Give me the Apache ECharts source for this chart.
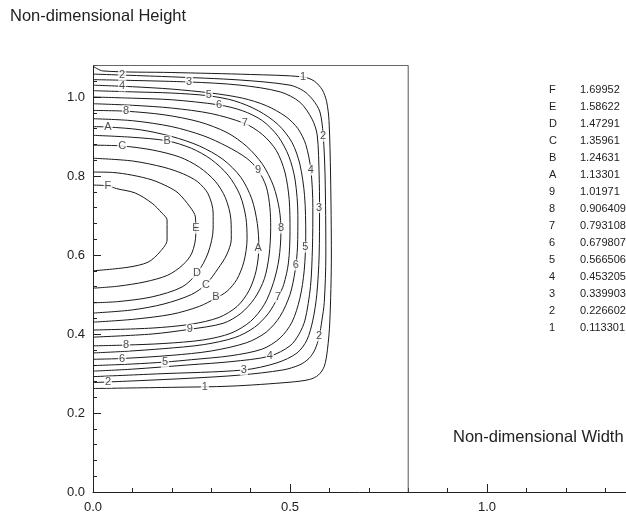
<!DOCTYPE html>
<html>
<head>
<meta charset="utf-8">
<script src="https://cdn.jsdelivr.net/npm/echarts@6/dist/echarts.min.js"></script>
<style>
  html, body { margin: 0; padding: 0; background: #fff; }
  #chart { width: 626px; height: 516px; }
</style>
</head>
<body>
<div id="chart"></div>
<script>
// contour levels (legend)
const levelNames = ['1', '2', '3', '4', '5', '6', '7', '8', '9', 'A', 'B', 'C', 'D', 'E', 'F']
const levelValues = [0.113301, 0.226602, 0.339903, 0.453205, 0.566506, 0.679807, 0.793108,
  0.906409, 1.01971, 1.13301, 1.24631, 1.35961, 1.47291, 1.58622, 1.69952]

// domain (width, height)
const domainSize = [0.8, 1.08]

// contour lines, [x, y]
const c1 = [[0, 1.078], [0.025, 1.066], [0.2, 1.062], [0.4, 1.057], [0.533, 1.051], [0.562, 1.04], [0.582, 1.018], [0.593, 0.988], [0.599, 0.94], [0.603, 0.8], [0.605, 0.6], [0.601, 0.43], [0.595, 0.36], [0.587, 0.318], [0.572, 0.296], [0.55, 0.285], [0.5, 0.278], [0.35, 0.268], [0.2, 0.265], [0, 0.262]]
const c2 = [[0, 1.058], [0.2, 1.051], [0.373, 1.043], [0.5, 1.03], [0.535, 1.015], [0.558, 0.993], [0.576, 0.962], [0.584, 0.906], [0.589, 0.8], [0.591, 0.6], [0.587, 0.48], [0.581, 0.435], [0.574, 0.393], [0.563, 0.36], [0.548, 0.338], [0.525, 0.322], [0.482, 0.309], [0.373, 0.296], [0.246, 0.288], [0.119, 0.282], [0, 0.277]]
const c3 = [[0, 1.044], [0.244, 1.038], [0.373, 1.03], [0.475, 1.013], [0.525, 0.987], [0.556, 0.944], [0.569, 0.904], [0.574, 0.8], [0.575, 0.72], [0.574, 0.6], [0.568, 0.5], [0.558, 0.435], [0.543, 0.385], [0.518, 0.352], [0.467, 0.327], [0.383, 0.309], [0.162, 0.299], [0, 0.292]]
const c4 = [[0, 1.03], [0.1, 1.026], [0.2, 1.02], [0.3, 1.01], [0.38, 0.997], [0.44, 0.978], [0.49, 0.95], [0.52, 0.92], [0.54, 0.88], [0.553, 0.815], [0.558, 0.72], [0.557, 0.62], [0.552, 0.52], [0.538, 0.435], [0.522, 0.398], [0.5, 0.37], [0.449, 0.344], [0.35, 0.33], [0.246, 0.322], [0.1, 0.311], [0, 0.306]]
const c5 = [[0, 1.016], [0.1, 1.013], [0.2, 1.01], [0.294, 1.003], [0.36, 0.99], [0.42, 0.965], [0.47, 0.93], [0.505, 0.885], [0.525, 0.83], [0.537, 0.75], [0.54, 0.65], [0.536, 0.56], [0.525, 0.49], [0.505, 0.43], [0.475, 0.39], [0.43, 0.362], [0.35, 0.345], [0.25, 0.335], [0.183, 0.329], [0.1, 0.324], [0, 0.32]]
const c6 = [[0, 1.0], [0.1, 0.997], [0.2, 0.993], [0.32, 0.98], [0.38, 0.965], [0.43, 0.94], [0.47, 0.9], [0.497, 0.85], [0.513, 0.79], [0.52, 0.7], [0.519, 0.62], [0.513, 0.56], [0.5, 0.5], [0.475, 0.445], [0.44, 0.405], [0.39, 0.378], [0.3, 0.357], [0.2, 0.346], [0.074, 0.338], [0, 0.336]]
const c7 = [[0, 0.983], [0.1, 0.979], [0.2, 0.972], [0.3, 0.958], [0.385, 0.933], [0.43, 0.905], [0.465, 0.865], [0.487, 0.81], [0.498, 0.74], [0.5, 0.66], [0.496, 0.58], [0.484, 0.525], [0.47, 0.494], [0.445, 0.452], [0.41, 0.417], [0.36, 0.391], [0.28, 0.373], [0.18, 0.363], [0.08, 0.356], [0, 0.352]]
const c8 = [[0, 0.966], [0.084, 0.964], [0.18, 0.955], [0.27, 0.937], [0.34, 0.91], [0.39, 0.875], [0.43, 0.83], [0.458, 0.775], [0.473, 0.715], [0.477, 0.66], [0.472, 0.59], [0.458, 0.53], [0.435, 0.475], [0.4, 0.432], [0.35, 0.402], [0.28, 0.385], [0.18, 0.376], [0.084, 0.372], [0, 0.37]]
const c9 = [[0, 0.945], [0.1, 0.94], [0.2, 0.925], [0.28, 0.902], [0.34, 0.875], [0.39, 0.845], [0.419, 0.815], [0.44, 0.772], [0.449, 0.72], [0.451, 0.67], [0.447, 0.6], [0.435, 0.54], [0.41, 0.49], [0.375, 0.452], [0.33, 0.427], [0.246, 0.412], [0.15, 0.4], [0, 0.392]]
const cA = [[0, 0.925], [0.038, 0.924], [0.12, 0.917], [0.2, 0.9], [0.27, 0.876], [0.33, 0.842], [0.375, 0.797], [0.403, 0.742], [0.417, 0.68], [0.421, 0.62], [0.414, 0.56], [0.396, 0.51], [0.366, 0.47], [0.32, 0.442], [0.25, 0.425], [0.15, 0.415], [0, 0.41]]
const cB = [[0, 0.903], [0.1, 0.898], [0.188, 0.889], [0.25, 0.87], [0.3, 0.842], [0.343, 0.802], [0.373, 0.752], [0.388, 0.695], [0.391, 0.64], [0.383, 0.583], [0.365, 0.538], [0.34, 0.508], [0.312, 0.491], [0.27, 0.47], [0.2, 0.45], [0.1, 0.437], [0, 0.43]]
const cC = [[0, 0.878], [0.074, 0.876], [0.15, 0.866], [0.22, 0.848], [0.27, 0.822], [0.31, 0.787], [0.336, 0.745], [0.35, 0.69], [0.351, 0.64], [0.339, 0.6], [0.317, 0.565], [0.287, 0.526], [0.25, 0.5], [0.18, 0.476], [0.1, 0.461], [0, 0.453]]
const cD = [[0, 0.845], [0.1, 0.838], [0.18, 0.822], [0.23, 0.805], [0.266, 0.785], [0.292, 0.755], [0.305, 0.706], [0.305, 0.668], [0.292, 0.605], [0.264, 0.554], [0.226, 0.519], [0.15, 0.494], [0.063, 0.482], [0, 0.479]]
const cE = [[0, 0.81], [0.05, 0.809], [0.1, 0.802], [0.15, 0.79], [0.19, 0.773], [0.216, 0.757], [0.246, 0.722], [0.26, 0.696], [0.261, 0.653], [0.251, 0.605], [0.228, 0.575], [0.19, 0.549], [0.132, 0.532], [0.063, 0.521], [0, 0.516]]
const cF = [[0, 0.777], [0.038, 0.775], [0.06, 0.768], [0.107, 0.757], [0.15, 0.731], [0.175, 0.706], [0.188, 0.689], [0.188, 0.638], [0.17, 0.608], [0.14, 0.582], [0.089, 0.569], [0, 0.56]]

const contours = [c1, c2, c3, c4, c5, c6, c7, c8, c9, cA, cB, cC, cD, cE, cF]

// in-line level labels [x, y, level]
const lineLabels = [
  [0.533, 1.051, '1'], [0.284, 0.266, '1'],
  [0.074, 1.056, '2'], [0.584, 0.901, '2'], [0.574, 0.395, '2'], [0.038, 0.278, '2'],
  [0.244, 1.039, '3'], [0.574, 0.72, '3'], [0.383, 0.309, '3'],
  [0.074, 1.028, '4'], [0.553, 0.815, '4'], [0.449, 0.344, '4'],
  [0.294, 1.004, '5'], [0.539, 0.62, '5'], [0.183, 0.328, '5'],
  [0.32, 0.98, '6'], [0.515, 0.575, '6'], [0.074, 0.338, '6'],
  [0.385, 0.933, '7'], [0.47, 0.494, '7'],
  [0.084, 0.965, '8'], [0.477, 0.668, '8'], [0.084, 0.372, '8'],
  [0.419, 0.815, '9'], [0.246, 0.412, '9'],
  [0.038, 0.924, 'A'], [0.419, 0.617, 'A'],
  [0.188, 0.889, 'B'], [0.312, 0.493, 'B'],
  [0.074, 0.876, 'C'], [0.287, 0.524, 'C'],
  [0.264, 0.554, 'D'],
  [0.261, 0.668, 'E'],
  [0.038, 0.775, 'F'],
]

const FONT = '"Liberation Sans", Arial, sans-serif'
const dom = document.getElementById('chart')
const chart = echarts.init(dom, null, { renderer: 'canvas' })

// x axis runs past the right edge of the page, as in the original
const gridLeft = 93
const gridTop = 65.4
const gridHeight = 426.6
const gridWidth = 551.6

const series = contours.map((c, i) => ({
  name: levelNames[i],
  type: 'line',
  data: c,
  showSymbol: false,
  smooth: 0.3,
  lineStyle: { color: '#1a1a1a', width: 1 },
  silent: true,
  z: 2,
}))

series.push({
  type: 'line',
  data: [[0, domainSize[1]], [domainSize[0], domainSize[1]], [domainSize[0], 0]],
  showSymbol: false,
  lineStyle: { color: '#555', width: 1 },
  silent: true,
  z: 1,
})

series.push({
  type: 'scatter',
  data: lineLabels,
  symbolSize: 1,
  itemStyle: { color: 'transparent' },
  label: {
    show: true,
    position: 'inside',
    formatter: p => p.value[2],
    fontFamily: FONT,
    fontSize: 11,
    color: '#222',
    backgroundColor: '#fff',
    padding: [0, 1],
  },
  silent: true,
  z: 5,
})

// legend block built from the level arrays
const legendTop = 90
const legendStep = 17
const legendGraphics = []
for (let i = levelNames.length - 1, row = 0; i >= 0; i--, row++) {
  legendGraphics.push({
    type: 'text', left: 549, top: legendTop + row * legendStep - 6,
    style: { text: levelNames[i], font: '11px ' + FONT, fill: '#222' },
  })
  legendGraphics.push({
    type: 'text', left: 580, top: legendTop + row * legendStep - 6,
    style: { text: String(levelValues[i]), font: '11px ' + FONT, fill: '#222' },
  })
}

const tickStyle = { color: '#222', width: 1 }

const option = {
  animation: false,
  backgroundColor: '#fff',
  grid: {
    left: gridLeft, top: gridTop, width: gridWidth, height: gridHeight,
    containLabel: false, outerBoundsMode: 'none',
  },
  xAxis: [{
    type: 'value', min: 0, max: 1.4, interval: 0.5,
    axisLine: { show: true, onZero: false, lineStyle: { color: '#222', width: 1 } },
    axisTick: { show: true, inside: true, length: 8, lineStyle: tickStyle },
    axisLabel: {
      showMaxLabel: false, margin: 9, fontFamily: FONT, fontSize: 13, color: '#222',
      formatter: v => v.toFixed(1),
    },
    splitLine: { show: false },
  }, {
    type: 'value', min: 0, max: 1.4, interval: 0.1, position: 'bottom',
    axisLine: { show: false },
    axisTick: { show: true, inside: true, length: 4, lineStyle: tickStyle },
    axisLabel: { show: false },
    splitLine: { show: false },
  }],
  yAxis: [{
    type: 'value', min: 0, max: domainSize[1], interval: 0.2,
    axisLine: { show: true, onZero: false, lineStyle: { color: '#222', width: 1 } },
    axisTick: { show: true, inside: true, length: 8, lineStyle: tickStyle },
    axisLabel: {
      showMaxLabel: false, margin: 8, fontFamily: FONT, fontSize: 13, color: '#222',
      formatter: v => v.toFixed(1),
    },
    splitLine: { show: false },
  }, {
    type: 'value', min: 0, max: domainSize[1], interval: 0.04, position: 'left',
    axisLine: { show: false },
    axisTick: { show: true, inside: true, length: 4, lineStyle: tickStyle },
    axisLabel: { show: false },
    splitLine: { show: false },
  }],
  graphic: [
    {
      type: 'text', left: 10, top: 8,
      style: { text: 'Non-dimensional Height', font: '16.5px ' + FONT, fill: '#222' },
    },
    {
      type: 'text', left: 453, top: 429,
      style: { text: 'Non-dimensional Width', font: '16.5px ' + FONT, fill: '#222' },
    },
    ...legendGraphics,
  ],
  series,
}

chart.setOption(option)
</script>
</body>
</html>
